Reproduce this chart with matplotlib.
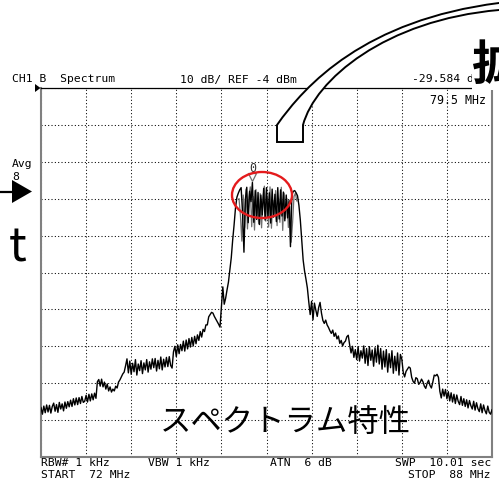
import numpy as np
import matplotlib
matplotlib.use("Agg")
import matplotlib.pyplot as plt
from matplotlib.patches import Ellipse, PathPatch, Polygon
from matplotlib.path import Path
from matplotlib.transforms import offset_copy

# analyzer settings shown in the annotation rows
start_mhz, stop_mhz = 72.0, 88.0
ref_dbm = -4
db_per_div = 10
marker_mhz = 79.5
marker_dbm = -29.584

# averaged trace, 0.05 MHz sweep points, one row per MHz
level_dbm = [
    # 72 MHz
    -90.6, -92.4, -90.2, -92.0, -89.9, -91.8, -90.0, -92.1, -90.3, -89.4,
    -91.6, -89.8, -91.9, -89.2, -91.0, -89.6, -91.5, -89.1, -90.8, -89.0,
    # 73
    -90.4, -88.6, -90.3, -88.2, -89.9, -88.0, -89.8, -87.9, -89.5, -87.6,
    -89.2, -88.9, -87.3, -89.1, -87.0, -88.8, -86.9, -88.5, -86.7, -88.1,
    # 74
    -83.6, -83.0, -84.8, -82.9, -85.0, -83.7, -85.6, -84.2, -86.1, -85.0,
    -86.4, -85.6, -86.1, -84.8, -85.3, -83.7, -83.1, -82.3, -81.5, -81.0,
    # 75
    -79.3, -77.4, -81.2, -78.0, -81.6, -78.6, -80.9, -77.6, -81.8, -78.8,
    -80.6, -77.9, -81.4, -78.5, -80.4, -77.6, -81.0, -78.2, -80.2, -77.4,
    # 76
    -79.8, -77.3, -80.7, -77.8, -80.1, -76.9, -80.4, -77.5, -79.6, -77.0,
    -79.5, -76.8, -79.2, -79.9, -75.5, -74.0, -76.8, -73.6, -76.0, -73.5,
    # 77
    -75.2, -72.6, -75.3, -72.3, -74.7, -71.9, -74.2, -71.6, -73.9, -71.3,
    -73.3, -70.9, -72.4, -70.0, -71.5, -69.4, -70.0, -68.2, -68.2, -66.0,
    # 78
    -65.4, -64.8, -65.0, -65.9, -66.6, -67.3, -68.0, -68.8, -63.5, -57.9,
    -62.6, -61.0, -58.7, -56.6, -53.3, -50.0, -45.2, -41.1, -36.5, -33.6,
    # 79
    -32.5, -31.6, -31.0, -37.8, -48.5, -34.2, -30.9, -40.5, -32.0, -34.8,
    -29.6, -40.4, -31.8, -39.6, -32.3, -41.0, -33.0, -38.4, -31.2, -39.8,
    # 80
    -31.0, -38.9, -32.4, -40.6, -31.4, -39.0, -32.8, -40.2, -31.0, -39.5,
    -31.6, -38.7, -32.2, -40.0, -33.0, -39.2, -34.5, -47.0, -33.0, -32.0,
    # 81
    -31.8, -32.4, -33.2, -35.8, -39.8, -45.0, -50.6, -53.6, -55.8, -58.2,
    -62.0, -65.4, -61.8, -66.8, -62.3, -64.2, -65.9, -63.5, -62.1, -65.0,
    # 82
    -67.0, -67.8, -66.9, -68.2, -68.9, -69.8, -70.5, -69.6, -71.3, -70.4,
    -72.0, -71.2, -73.2, -72.4, -73.9, -73.0, -72.6, -71.4, -71.0, -73.6,
    # 83
    -75.8, -74.0, -77.0, -74.9, -77.6, -74.2, -78.0, -75.2, -77.2, -73.9,
    -78.6, -74.6, -79.2, -74.1, -77.8, -75.0, -79.4, -74.4, -78.3, -73.7,
    # 84
    -78.8, -74.6, -80.2, -75.3, -79.6, -74.9, -81.0, -76.0, -79.8, -75.2,
    -81.3, -76.7, -80.6, -75.8, -81.8, -76.2, -77.5, -81.0, -82.3, -80.8,
    # 85
    -80.2, -79.6, -79.9, -82.4, -83.5, -84.0, -82.5, -82.8, -84.3, -83.8,
    -82.9, -83.6, -84.8, -85.4, -84.0, -83.2, -84.6, -85.3, -83.7, -81.8,
    # 86
    -82.0, -81.6, -82.4, -86.2, -88.0, -85.6, -87.5, -85.7, -88.2, -86.3,
    -88.8, -86.6, -89.1, -87.0, -89.5, -87.2, -88.9, -89.8, -87.6, -90.0,
    # 87
    -88.2, -90.3, -88.5, -90.7, -88.7, -90.1, -91.0, -88.9, -91.3, -89.3,
    -90.9, -91.7, -89.6, -92.0, -89.9, -91.4, -92.3, -90.2, -91.9, -92.4,
    # 88
    -91.2,
]
freq_mhz = np.linspace(start_mhz, stop_mhz, len(level_dbm))

# live (grey) sweep across the channel top, between the averaged points
live_start_mhz, live_stop_mhz = 79.025, 81.075
live_dbm = [
    -34.0, -38.6, -45.5, -33.0, -41.8, -31.4, -42.2, -33.6, -30.8, -41.6,
    -33.4, -42.5, -31.5, -36.9, -40.8, -32.6, -41.9, -33.8, -30.6, -40.1,
    -33.5, -41.7, -30.8, -42.0, -34.4, -38.2, -31.8, -41.3, -33.9, -40.4,
    -30.9, -42.6, -32.5, -39.3, -34.0, -41.8, -36.0, -45.8, -40.5, -33.4,
    -32.5, -34.6,
]
live_mhz = np.linspace(live_start_mhz, live_stop_mhz, len(live_dbm))

W, H = 499, 488
MONO = "DejaVu Sans Mono"
JP = ["Noto Sans CJK JP", "DejaVu Sans"]

fig = plt.figure(figsize=(W / 100, H / 100), dpi=100)
fig.patch.set_facecolor("white")

# screen area of the analyzer: 10 x 10 divisions
ax = fig.add_axes([41 / W, (H - 457) / H, 451 / W, 369 / H])
ax.set_xlim(start_mhz, stop_mhz)
ax.set_ylim(ref_dbm - 10 * db_per_div, ref_dbm)
ax.set_xticks(np.linspace(start_mhz, stop_mhz, 11))
ax.set_yticks(np.arange(ref_dbm - 10 * db_per_div, ref_dbm + 1, db_per_div))
ax.tick_params(length=0, labelbottom=False, labelleft=False)
ax.grid(True, color="black", linestyle=(0, (1, 2.2)), linewidth=0.75)
for side in ("left", "right", "bottom"):
    ax.spines[side].set_color("#808080")
    ax.spines[side].set_linewidth(1.5)
ax.spines["top"].set_color("black")
ax.spines["top"].set_linewidth(0.9)

ax.plot(live_mhz, live_dbm, color="#6e6e6e", linewidth=0.9, zorder=2.5)
ax.plot(freq_mhz, level_dbm, color="black", linewidth=1.0, zorder=3)

# marker 0 sitting on the trace
wedge_tr = offset_copy(ax.transData, fig=fig, x=0, y=5, units="dots")
ax.plot([marker_mhz], [marker_dbm], marker="v", ms=6, mfc="none",
        mec="#707070", mew=0.9, transform=wedge_tr, zorder=4)
ax.annotate("0", (marker_mhz, marker_dbm), xytext=(0, 14),
            textcoords="offset pixels", ha="center", va="center",
            family=MONO, fontsize=8.4, color="#303030", zorder=4)
ax.text(0.987, 0.967, f"{marker_mhz:.1f} MHz", transform=ax.transAxes,
        ha="right", va="center", family=MONO, fontsize=8.4, zorder=4)

# overlay in pixel coordinates for the slide decorations
ov = fig.add_axes([0, 0, 1, 1], zorder=5)
ov.set_xlim(0, W)
ov.set_ylim(H, 0)
ov.axis("off")
ov.patch.set_alpha(0)

txt = dict(family=MONO, fontsize=8.2, va="center", color="black")
ov.text(12, 79.5, "CH1 B  Spectrum", **txt)
ov.text(180, 79.5, f"{db_per_div} dB/ REF {ref_dbm} dBm", **txt)
ov.text(412, 79.5, f"{marker_dbm:.3f} dBm", **txt)
ov.text(12, 164, "Avg", **txt)
ov.text(12, 176.5, "8", **txt)
ov.text(41, 463, "RBW# 1 kHz", **txt)
ov.text(148, 463, "VBW 1 kHz", **txt)
ov.text(270, 463, "ATN  6 dB", **txt)
ov.text(491, 463, "SWP  10.01 sec", ha="right", **txt)
ov.text(41, 474.5, f"START  {start_mhz:.0f} MHz", **txt)
ov.text(491, 474.5, f"STOP  {stop_mhz:.0f} MHz", ha="right", **txt)

# small reference-level pointer at the top left corner
ov.add_patch(Polygon([(35, 84), (35, 92), (40.5, 88)], closed=True,
                     color="black", lw=0))

# "Avg" arrow on the left
ov.plot([0, 14], [191.5, 191.5], color="black", lw=1.6, solid_capstyle="butt")
ov.add_patch(Polygon([(12, 180), (12, 203), (32, 191.5)], closed=True,
                     color="black", lw=0))

# curved callout tube
verts = [
    (277, 142), (277, 125),
    (305, 85), (365, 20), (499, 3),
    (505, 3), (505, 10), (499, 10),
    (385, 20), (315, 80), (303, 125),
    (303, 142), (277, 142),
]
codes = [Path.MOVETO, Path.LINETO,
         Path.CURVE4, Path.CURVE4, Path.CURVE4,
         Path.LINETO, Path.LINETO, Path.LINETO,
         Path.CURVE4, Path.CURVE4, Path.CURVE4,
         Path.LINETO, Path.CLOSEPOLY]
ov.add_patch(PathPatch(Path(verts, codes), facecolor="white",
                       edgecolor="black", lw=1.4, joinstyle="miter"))

# highlight around the channel top
ov.add_patch(Ellipse((262, 195), 60, 46, fill=False, edgecolor="#e41a1c",
                     lw=1.7))

ov.text(285.5, 422, "スペクトラム特性", family=JP, fontsize=22.6,
        ha="center", va="center", color="black")
ov.text(9, 262, "t", family=JP, fontsize=34, ha="left", va="baseline",
        color="black")
ov.text(472, 65, "拡", family=JP, fontsize=34.5, fontweight="bold",
        ha="left", va="center", color="black",
        bbox=dict(facecolor="white", edgecolor="none", pad=0))

fig.savefig("out.png", dpi=100, facecolor="white")
